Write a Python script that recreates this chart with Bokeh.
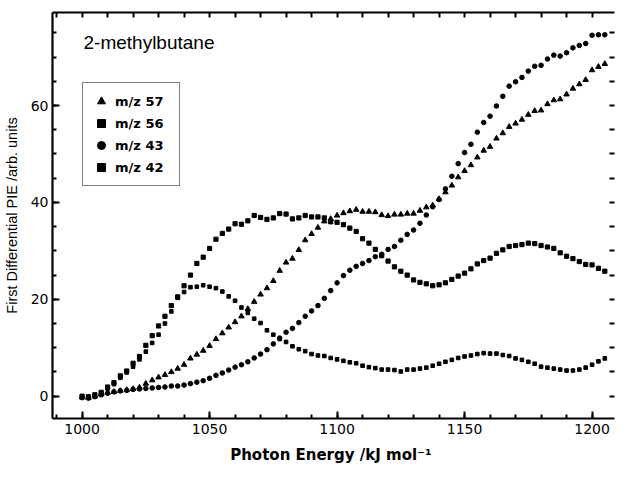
import numpy as np
from bokeh.plotting import figure
from bokeh.models import (ColumnDataSource, LinearAxis, Legend, LegendItem, Label,
                          FixedTicker, Range1d)
from bokeh.embed import file_html
from bokeh.resources import INLINE

energy = list(np.arange(1000.0, 1205.01, 2.5))

mz42 = [0.0, -0.1, 0.3, 0.8, 1.9, 2.8, 4.2, 5.2, 6.8, 8.2,
        10.5, 12.5, 14.5, 16.5, 18.7, 20.5, 22.8, 25.0, 27.4, 28.7,
        30.5, 32.4, 33.6, 34.5, 35.6, 35.5, 36.2, 37.3, 36.9, 36.5,
        36.8, 37.7, 37.6, 36.6, 36.8, 37.3, 37.0, 37.0, 36.8, 36.0,
        35.9, 35.4, 34.7, 34.0, 32.5, 31.6, 30.3, 29.0, 27.9, 26.7,
        25.8, 25.0, 24.0, 23.5, 23.2, 22.8, 23.0, 23.4, 24.1, 24.8,
        25.4, 26.3, 27.3, 28.0, 28.5, 29.5, 30.2, 30.9, 31.1, 31.3,
        31.6, 31.5, 31.1, 30.8, 30.5, 29.6, 28.9, 28.4, 27.8, 27.2,
        27.1, 26.4, 25.8]

mz56 = [0.0, -0.2, 0.2, 0.6, 1.6, 2.5, 3.8, 4.9, 6.1, 7.6,
        9.2, 11.0, 12.7, 15.0, 17.5, 20.3, 21.5, 22.5, 22.6, 22.9,
        22.6, 22.3, 21.6, 20.6, 19.7, 18.3, 17.2, 16.0, 15.1, 13.6,
        12.7, 11.8, 11.2, 10.3, 9.7, 9.3, 8.7, 8.4, 8.3, 7.9,
        7.6, 7.3, 7.0, 6.8, 6.3, 6.0, 5.8, 5.5, 5.5, 5.4,
        5.1, 5.5, 5.5, 5.7, 5.9, 6.3, 6.7, 7.1, 7.5, 7.9,
        8.2, 8.4, 8.7, 8.9, 8.8, 8.8, 8.5, 8.3, 7.8, 7.5,
        7.1, 6.7, 6.1, 5.9, 5.7, 5.5, 5.3, 5.3, 5.5, 5.9,
        6.5, 7.2, 7.8]

mz57 = [-0.2, -0.3, 0.0, 0.4, 0.7, 0.9, 1.1, 1.3, 1.5, 1.8,
        2.6, 3.3, 3.9, 4.4, 5.0, 5.7, 6.5, 7.8, 8.6, 9.4,
        10.4, 11.8, 13.0, 14.2, 15.3, 16.5, 18.0, 19.5, 21.0, 22.3,
        23.8, 25.9, 27.6, 28.4, 30.2, 32.2, 33.5, 34.8, 36.1, 36.6,
        37.3, 37.8, 38.2, 38.5, 38.1, 38.1, 38.0, 37.4, 37.2, 37.5,
        37.5, 37.7, 37.7, 38.3, 39.0, 39.4, 40.7, 42.1, 43.5, 45.2,
        46.5, 47.7, 49.3, 50.7, 51.5, 53.2, 54.3, 55.6, 56.3, 57.1,
        58.1, 58.9, 59.0, 60.3, 61.1, 61.3, 62.3, 63.5, 64.4, 65.3,
        67.3, 68.0, 68.6]

mz43 = [-0.3, -0.4, -0.1, 0.3, 0.6, 0.9, 1.1, 1.2, 1.4, 1.5,
        1.6, 1.7, 1.8, 1.9, 2.1, 2.1, 2.3, 2.6, 2.9, 3.2,
        3.7, 4.3, 4.8, 5.4, 6.0, 6.5, 7.1, 7.9, 8.7, 9.6,
        10.8, 12.0, 13.2, 14.0, 15.2, 16.5, 17.6, 18.7, 20.2, 21.8,
        23.4, 24.9, 26.0, 26.8, 27.4, 28.0, 28.8, 29.3, 30.3, 30.9,
        32.2, 33.4, 34.3, 35.7, 37.4, 39.1, 40.6, 42.8, 45.4, 48.0,
        50.3, 52.0, 54.5, 56.5, 57.8, 59.9, 61.9, 64.0, 64.9, 65.8,
        67.1, 68.1, 68.3, 69.6, 70.4, 70.2, 70.9, 71.9, 72.4, 72.8,
        74.5, 74.6, 74.6]

x_major = [1000, 1050, 1100, 1150, 1200]
x_minor = list(range(990, 1215, 10))
y_major = [0, 20, 40, 60]
y_minor = list(range(-5, 80, 5))

series_labels = ["m/z 57", "m/z 56", "m/z 43", "m/z 42"]

src = ColumnDataSource(dict(e=energy, a=mz42, b=mz56, c=mz57, d=mz43))

p = figure(width=615, height=466, output_backend="svg", toolbar_location=None,
           x_range=Range1d(988.4, 1208.8), y_range=Range1d(-4.6, 79.2),
           min_border_left=52, min_border_right=1, min_border_top=12,
           min_border_bottom=46, background_fill_color="white",
           border_fill_color="white")
p.outline_line_color = None
p.xgrid.grid_line_color = None
p.ygrid.grid_line_color = None

r57 = p.scatter("e", "c", source=src, marker="triangle", size=5.5, color="black")
r56 = p.scatter("e", "b", source=src, marker="square", size=3.6, color="black")
r43 = p.scatter("e", "d", source=src, marker="circle", size=4.6, color="black")
r42 = p.scatter("e", "a", source=src, marker="square", size=4.2, color="black")

def style_common(ax, line=True):
    ax.major_tick_out = 0
    ax.minor_tick_out = 0
    ax.major_tick_line_width = 2
    ax.minor_tick_line_width = 2
    ax.axis_line_width = 2.2
    ax.axis_line_color = "black" if line else None
    ax.major_tick_line_color = "black"
    ax.minor_tick_line_color = "black"

xa = p.xaxis[0]
ya = p.yaxis[0]
for ax, ticks, minor in ((xa, x_major, x_minor), (ya, y_major, y_minor)):
    style_common(ax)
    ax.ticker = FixedTicker(ticks=ticks, minor_ticks=minor)
    ax.major_tick_in = 7
    ax.minor_tick_in = 4
    ax.major_label_text_font = "DejaVu Sans"
    ax.major_label_text_font_size = "14px"
    ax.major_label_text_color = "black"
    ax.axis_label_text_color = "black"
xa.major_label_standoff = 5
ya.major_label_standoff = 4

xa.axis_label = "Photon Energy  /kJ mol\u207b\u00b9"
xa.axis_label_text_font = "DejaVu Sans"
xa.axis_label_text_font_style = "bold"
xa.axis_label_text_font_size = "15px"
xa.axis_label_standoff = 9

ya.axis_label = "First Differential PIE /arb. units"
ya.axis_label_text_font = "Liberation Sans"
ya.axis_label_text_font_style = "normal"
ya.axis_label_text_font_size = "14.5px"
ya.axis_label_standoff = 8

# mirrored axes on top and right: tick marks only
top = LinearAxis(ticker=FixedTicker(ticks=[], minor_ticks=x_minor))
style_common(top)
top.minor_tick_in = 5
p.add_layout(top, "above")
right = LinearAxis(ticker=FixedTicker(ticks=[], minor_ticks=y_minor))
style_common(right, line=False)
right.minor_tick_in = 5
p.add_layout(right, "right")

title = Label(x=31, y=376, x_units="screen", y_units="screen",
              text="2-methylbutane", text_font="Liberation Sans",
              text_font_size="19px", text_color="black",
              text_baseline="alphabetic")
p.add_layout(title)

legend = Legend(items=[LegendItem(label=series_labels[0], renderers=[r57]),
                       LegendItem(label=series_labels[1], renderers=[r56]),
                       LegendItem(label=series_labels[2], renderers=[r43]),
                       LegendItem(label=series_labels[3], renderers=[r42])],
                location=(30, 232))
legend.margin = 0
legend.padding = 8
legend.spacing = 2
legend.glyph_width = 20
legend.glyph_height = 20
legend.label_standoff = 4
legend.label_width = 56
legend.label_text_font = "DejaVu Sans"
legend.label_text_font_style = "bold"
legend.label_text_font_size = "13px"
legend.label_text_color = "black"
legend.border_line_color = "black"
legend.border_line_width = 1.5
legend.background_fill_color = "white"
legend.background_fill_alpha = 1
p.add_layout(legend)

open("out.html", "w").write(file_html(p, INLINE))
